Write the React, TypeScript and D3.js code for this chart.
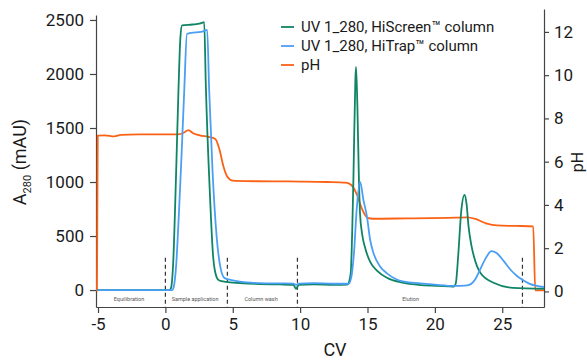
import React, { useEffect, useRef } from 'react';
import * as d3 from 'd3';

// CV positions and values
const greenCv = [-5.05, 0.3, 0.42, 0.57, 0.8, 0.97, 1.12, 1.24, 2.0, 2.6, 2.88, 3.0, 3.3, 3.55, 3.8, 4.0, 4.5, 5.5, 7, 8.5, 9.5, 9.7, 9.9, 11, 12.5, 13.5, 13.75, 13.95, 14.1, 14.15, 14.25, 14.35, 14.45, 14.6, 14.85, 15.2, 15.7, 16.5, 17.5, 19, 21, 21.4, 21.55, 21.75, 21.95, 22.2, 22.35, 22.5, 22.7, 22.9, 23.4, 24.4, 25.8, 28.1];
const greenA = [0, 0, 20, 230, 1100, 1850, 2350, 2450, 2458, 2468, 2480, 1900, 900, 300, 120, 88, 75, 65, 55, 52, 48, 10, 48, 52, 48, 50, 150, 1000, 1950, 2065, 1700, 1100, 700, 520, 380, 260, 180, 110, 70, 45, 35, 32, 60, 350, 720, 880, 800, 590, 420, 310, 155, 65, 20, 12];

const blueCv = [-5.05, 0.5, 0.62, 0.8, 1.0, 1.2, 1.4, 1.6, 2.2, 2.8, 3.1, 3.25, 3.5, 3.8, 4.1, 4.4, 5, 6, 7.5, 9.5, 9.7, 9.9, 11, 12.5, 13.6, 13.8, 14.0, 14.2, 14.45, 14.7, 14.96, 15.2, 15.45, 15.95, 16.45, 17.7, 18.9, 20, 21.4, 22.2, 22.6, 23.0, 23.4, 23.8, 24.2, 24.6, 25.1, 25.6, 26.1, 26.5, 27, 27.5, 28.1];
const blueA = [0, 0, 30, 230, 700, 1250, 1850, 2370, 2385, 2395, 2408, 1850, 1100, 500, 200, 110, 90, 70, 62, 60, 48, 60, 64, 58, 58, 120, 350, 750, 1000, 833, 680, 463, 340, 216, 154, 77, 62, 50, 38, 40, 50, 100, 200, 300, 360, 340, 270, 190, 130, 95, 60, 40, 28];

const phCv = [-5.08, -5.02, -4.5, -3.8, -3.3, -2, 0, 0.9, 1.4, 1.7, 2.1, 2.6, 3.2, 3.7, 4.0, 4.3, 4.6, 5.0, 6, 8, 10, 12, 13.4, 13.8, 14.2, 14.6, 15, 15.4, 18, 21, 22.4, 23.0, 23.8, 24.6, 26, 27.3, 27.45, 28.1];
const phVal = [0, 7.2, 7.22, 7.17, 7.24, 7.26, 7.26, 7.26, 7.35, 7.46, 7.3, 7.21, 7.15, 7.05, 6.6, 5.8, 5.3, 5.12, 5.1, 5.09, 5.08, 5.06, 5.03, 4.92, 4.5, 3.8, 3.4, 3.36, 3.38, 3.4, 3.42, 3.35, 3.15, 3.05, 3.03, 3.01, 0.05, 0.05];

const cvTicks = [-5, 0, 5, 10, 15, 20, 25];
const aTicks = [0, 500, 1000, 1500, 2000, 2500];
const phTicks = [0, 2, 4, 6, 8, 10, 12];

const phaseMarks = [0, 4.6, 9.8, 26.5];
const phaseNames = ['Equilibration', 'Sample application', 'Column wash', 'Elution'];
const phaseCenters = [-2.7, 2.2, 7.1, 18.2];

const seriesNames = ['UV 1_280, HiScreen\u2122 column', 'UV 1_280, HiTrap\u2122 column', 'pH'];
const colors = ['#108565', '#4a9ff5', '#fb6215'];

export default function App() {
  const ref = useRef<SVGSVGElement>(null);

  useEffect(() => {
    if (!ref.current) return;
    document.body.style.margin = '0';
    const svg = d3.select(ref.current);
    svg.selectAll('*').remove();
    const font = 'Roboto, "Noto Sans", sans-serif';

    const x = d3.scaleLinear().domain([-5.15, 28.1]).range([96, 544]);
    const yL = d3.scaleLinear().domain([-157, 2546]).range([307, 15]);
    const yR = d3.scaleLinear().domain([-0.72, 13.06]).range([307, 9]);

    const styleAxis = (g: any) => {
      g.select('.domain').attr('stroke', '#444').attr('stroke-width', 1.2);
      g.selectAll('.tick line').attr('stroke', '#444').attr('stroke-width', 1.2);
      g.selectAll('.tick text').attr('fill', '#1a1a1a').attr('font-size', 17).attr('font-family', font);
    };

    svg.append('g')
      .attr('transform', 'translate(96,0)')
      .call(d3.axisLeft(yL).tickValues(aTicks).tickSize(6).tickPadding(6).tickSizeOuter(0).tickFormat((d: any) => String(d)))
      .call(styleAxis);

    svg.append('g')
      .attr('transform', 'translate(0,307)')
      .call(d3.axisBottom(x).tickValues(cvTicks).tickSize(6).tickPadding(5).tickSizeOuter(0).tickFormat((d: any) => String(d)))
      .call(styleAxis);

    svg.append('g')
      .attr('transform', 'translate(544,0)')
      .call(d3.axisRight(yR).tickValues(phTicks).tickSize(5).tickPadding(5).tickSizeOuter(0).tickFormat((d: any) => String(d)))
      .call(styleAxis);

    // phase separators and names
    phaseMarks.forEach(cv => {
      svg.append('line')
        .attr('x1', x(cv)).attr('x2', x(cv))
        .attr('y1', yL(300)).attr('y2', yL(-157))
        .attr('stroke', '#333').attr('stroke-width', 1.2)
        .attr('stroke-dasharray', '4,3');
    });
    phaseNames.forEach((name, i) => {
      svg.append('text')
        .attr('x', x(phaseCenters[i])).attr('y', 301)
        .attr('text-anchor', 'middle')
        .attr('font-size', 5.5).attr('font-family', font)
        .attr('fill', '#555')
        .text(name);
    });

    const drawSeries = (cvs: number[], vals: number[], y: any, color: string) => {
      const pts = cvs.map((c, i) => [x(c), y(vals[i])] as [number, number]);
      svg.append('path')
        .attr('d', d3.line().curve(d3.curveMonotoneX)(pts))
        .attr('fill', 'none')
        .attr('stroke', color)
        .attr('stroke-width', 1.8)
        .attr('stroke-linejoin', 'round');
    };

    drawSeries(phCv, phVal, yR, colors[2]);
    drawSeries(greenCv, greenA, yL, colors[0]);
    drawSeries(blueCv, blueA, yL, colors[1]);

    // legend
    seriesNames.forEach((name, i) => {
      const ly = 27 + i * 19;
      svg.append('line')
        .attr('x1', 281).attr('x2', 294)
        .attr('y1', ly).attr('y2', ly)
        .attr('stroke', colors[i]).attr('stroke-width', 1.8);
      svg.append('text')
        .attr('x', 301).attr('y', ly)
        .attr('dy', '0.35em')
        .attr('font-size', 15).attr('font-family', font)
        .attr('fill', '#1a1a1a')
        .text(name);
    });

    // axis titles
    const yt = svg.append('text')
      .attr('transform', 'translate(26,162) rotate(-90)')
      .attr('text-anchor', 'middle')
      .attr('font-size', 18).attr('font-family', font)
      .attr('fill', '#1a1a1a');
    yt.append('tspan').text('A');
    yt.append('tspan').attr('font-size', 11).attr('dy', 5).text('280');
    yt.append('tspan').attr('dy', -5).text(' (mAU)');

    svg.append('text')
      .attr('transform', 'translate(583,162) rotate(-90)')
      .attr('text-anchor', 'middle')
      .attr('font-size', 16).attr('font-family', font)
      .attr('fill', '#1a1a1a')
      .text('pH');

    svg.append('text')
      .attr('x', 335).attr('y', 356)
      .attr('text-anchor', 'middle')
      .attr('font-size', 18).attr('font-family', font)
      .attr('fill', '#1a1a1a')
      .text('CV');
  }, []);

  return <svg ref={ref} width={587} height={360} style={{ display: 'block', background: '#fff' }} />;
}
